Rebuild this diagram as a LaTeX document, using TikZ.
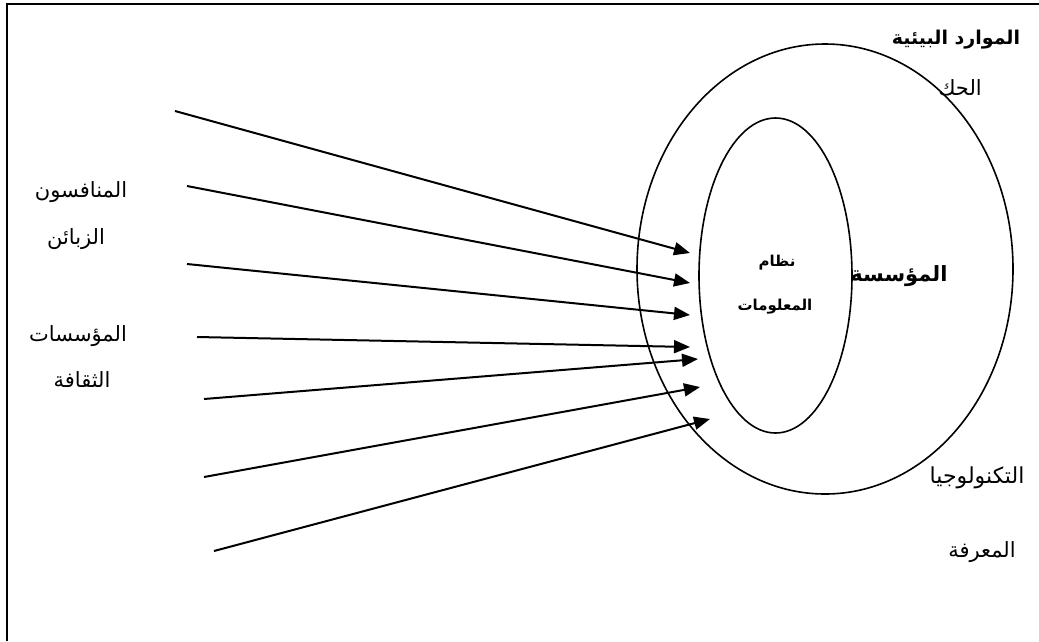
\documentclass[tikz,border=0pt]{standalone}
\usepackage{fontspec}
\usetikzlibrary{arrows.meta}
\TeXXeTstate=1
\newfontfamily\arabicfont[Script=Arabic]{DejaVu Sans}
\tikzset{
  lbl/.style={inner sep=0pt, font=\arabicfont\fontsize{21}{24}\selectfont},
  lblbold/.style={inner sep=0pt, font=\arabicfont\bfseries\fontsize{19}{22}\selectfont},
  flow/.style={line width=2pt, -{Triangle[length=16pt,width=13pt]}},
  ring/.style={line width=1.6pt}
}
\begin{document}
\begin{tikzpicture}[x=1pt,y=-1pt]
\path[use as bounding box] (0,0) rectangle (1039,641);
% frame
\draw[line width=1.8pt] (7,641) -- (7,4) -- (1039,4);
% ellipses
\draw[ring] (825,269) ellipse [x radius=188, y radius=225];
\draw[ring] (775.5,275.5) ellipse [x radius=76.5, y radius=157.5];
% arrow endpoints
\coordinate (s1) at (175,111); \coordinate (e1) at (690,253);
\coordinate (s2) at (187,186); \coordinate (e2) at (690,283);
\coordinate (s3) at (187,264); \coordinate (e3) at (690,315);
\coordinate (s4) at (197,337); \coordinate (e4) at (690,347);
\coordinate (s5) at (204,399); \coordinate (e5) at (698,359);
\coordinate (s6) at (204,477); \coordinate (e6) at (700,387);
\coordinate (s7) at (214,551); \coordinate (e7) at (710,419);
\foreach \i in {1,...,7} \draw[flow] (s\i) -- (e\i);
% labels
\node[lblbold] (env) at (956,40) {\beginR الموارد البيئية\endR};
\node[lbl] (gov) at (960,88) {\beginR الحك\endR};
\node[lblbold, font=\arabicfont\bfseries\fontsize{21}{24}\selectfont] (org) at (899,276) {\beginR المؤسسة\endR};
\node[lblbold, font=\arabicfont\bfseries\fontsize{15}{17}\selectfont] (is1) at (777,263) {\beginR نظام\endR};
\node[lblbold, font=\arabicfont\bfseries\fontsize{15}{17}\selectfont] (is2) at (775,307) {\beginR المعلومات\endR};
\node[lbl, font=\arabicfont\fontsize{22}{25}\selectfont] (tech) at (977,478) {\beginR التكنولوجيا\endR};
\node[lbl] (know) at (982,552) {\beginR المعرفة\endR};
\node[lbl] (comp) at (81,192) {\beginR المنافسون\endR};
\node[lbl] (cust) at (76,239) {\beginR الزبائن\endR};
\node[lbl] (inst) at (78,336) {\beginR المؤسسات\endR};
\node[lbl] (cult) at (82,380) {\beginR الثقافة\endR};
\end{tikzpicture}
\end{document}
